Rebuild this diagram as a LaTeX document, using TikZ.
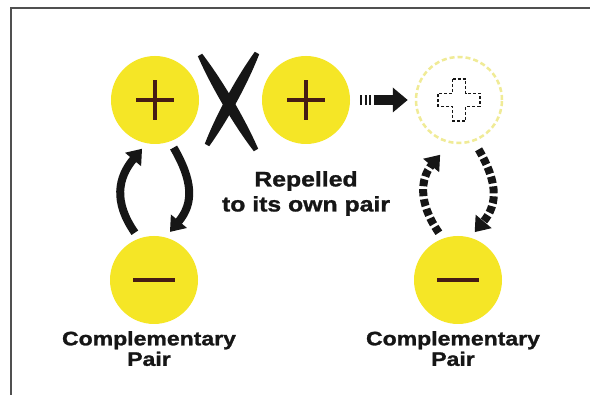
\documentclass[tikz,border=0pt]{standalone}
\usepackage{fontspec}
\newfontfamily\lblfont{Liberation Sans}[BoldFeatures={FakeStretch=1.18,FakeBold=1.3}]
\usetikzlibrary{arrows.meta,calc}
\definecolor{yel}{RGB}{245,230,38}
\definecolor{pale}{RGB}{240,235,150}
\definecolor{signc}{RGB}{70,28,20}
\definecolor{framec}{RGB}{80,80,80}
\definecolor{inkc}{RGB}{22,22,22}
\newcommand\brushstroke[3]{%
  \fill[inkc] ($(#1)!2.5pt!90:(#2)$) .. controls ($(#1)!0.3!(#2)!#3!90:(#2)$) and ($(#1)!0.7!(#2)!#3!90:(#2)$) .. ($(#2)!2.5pt!-90:(#1)$)
    -- ($(#2)!2.5pt!90:(#1)$) .. controls ($(#1)!0.7!(#2)!#3!-90:(#2)$) and ($(#1)!0.3!(#2)!#3!-90:(#2)$) .. ($(#1)!2.5pt!-90:(#2)$) -- cycle;}
\begin{document}
\begin{tikzpicture}[x=1pt,y=1pt,
  ball/.style={circle,fill=yel,minimum size=88pt,inner sep=0pt},
  ghost/.style={circle,draw=pale,line width=2.5pt,dash pattern=on 5pt off 3pt,minimum size=86pt,inner sep=0pt},
  sgn/.style={draw=signc,line width=4pt},
  curv/.style={draw=inkc,line width=8pt,-{Triangle[width=20pt,length=14pt]}},
  dcurv/.style={curv,dash pattern=on 7pt off 3pt},
  lbl/.style={text=inkc,font=\lblfont\bfseries\fontsize{19.5}{20.5}\selectfont,align=center,inner sep=0pt,anchor=north},
  lblbig/.style={lbl,font=\lblfont\bfseries\fontsize{21}{25}\selectfont},
]
\useasboundingbox (0,0) rectangle (590,395);
\fill[white] (0,0) rectangle (590,395);
\draw[framec,line width=2.5pt] (11,0) -- (11,387) -- (590,387);

\node[ball] (tp) at (155,295) {};
\node[ball] (mp) at (306,295) {};
\node[ghost] (dc) at (459,295) {};
\node[ball] (bm) at (154,115) {};
\node[ball] (bm2) at (458,115) {};

% signs
\draw[sgn] ([xshift=-19pt]tp.center) -- ([xshift=19pt]tp.center) ([yshift=-20pt]tp.center) -- ([yshift=20pt]tp.center);
\draw[sgn] ([xshift=-19pt]mp.center) -- ([xshift=19pt]mp.center) ([yshift=-20pt]mp.center) -- ([yshift=20pt]mp.center);
\draw[sgn] ([xshift=-21pt]bm.center) -- ([xshift=21pt]bm.center);
\draw[sgn] ([xshift=-21pt]bm2.center) -- ([xshift=21pt]bm2.center);
\draw[inkc,line width=1.5pt,dash pattern=on 3pt off 2pt] ($(dc.center)+(-6.5,21)$) -- ++(13,0) -- ++(0,-14.5) -- ++(14.5,0) -- ++(0,-13) -- ++(-14.5,0) -- ++(0,-14.5) -- ++(-13,0) -- ++(0,14.5) -- ++(-14.5,0) -- ++(0,13) -- ++(14.5,0) -- cycle;

% X mark
\coordinate (xa1) at (200,340);
\coordinate (xb1) at (256,245);
\coordinate (xa2) at (257,342);
\coordinate (xb2) at (207,250);
\brushstroke{xa1}{xb1}{6.5pt}
\brushstroke{xa2}{xb2}{6.5pt}

% straight arrow
\draw[inkc,line width=10pt,dash pattern=on 2pt off 2.5pt on 2pt off 2.5pt on 2pt off 2.5pt on 200pt off 0pt,
  -{Triangle[width=24pt,length=15pt]},shorten <=10pt,shorten >=7pt] (mp.east) -- (dc.west);

% curved arrows
\draw[curv,shorten <=7pt,shorten >=7pt] (bm.110) to[out=125,in=230,looseness=1.2] (tp.259);
\draw[curv,shorten <=7pt,shorten >=7pt] (tp.290) to[out=-60,in=50,looseness=1.2] (bm.75);
\draw[dcurv,shorten <=7pt,shorten >=15pt] (bm2.110) to[out=125,in=230,looseness=1.2] (dc.258);
\draw[dcurv,shorten <=9pt,shorten >=7pt] (dc.290) to[out=-60,in=50,looseness=1.2] (bm2.74);

% labels
\node[lblbig] (rep) at (306,224) {Repelled\\to its own pair};
\node[lbl] (cl) at (149,64) {Complementary\\Pair};
\node[lbl] (cr) at (453,64) {Complementary\\Pair};
\end{tikzpicture}
\end{document}
